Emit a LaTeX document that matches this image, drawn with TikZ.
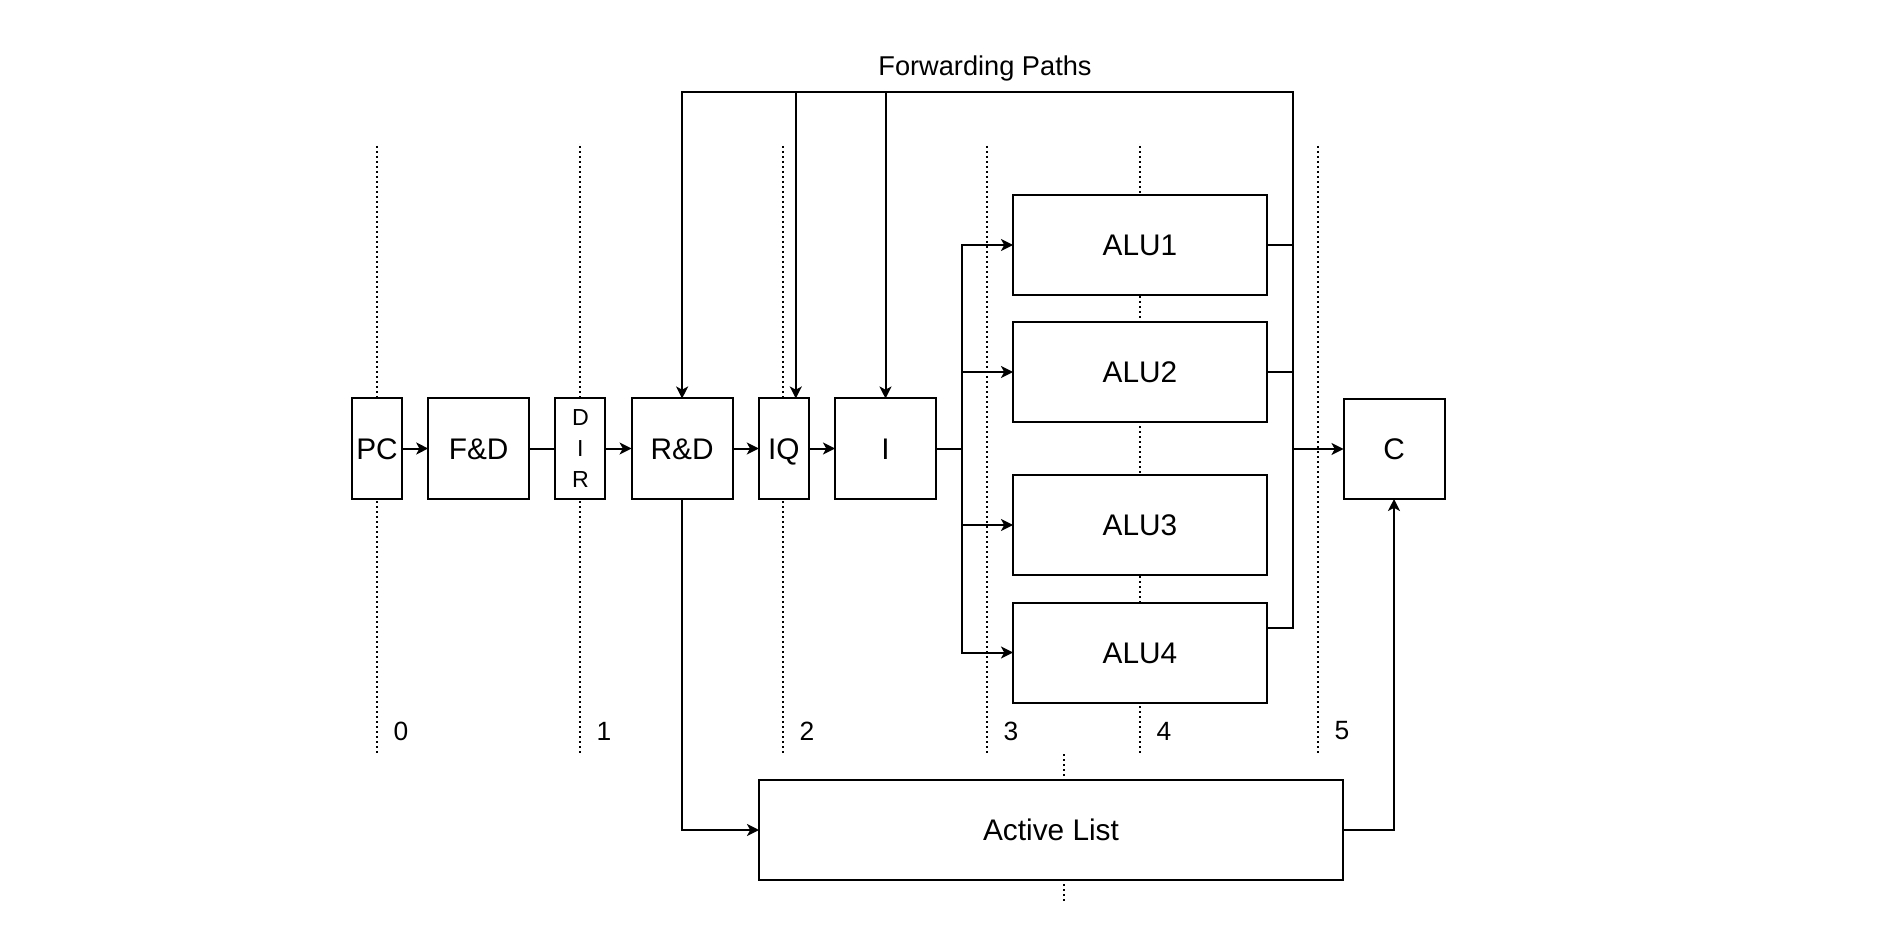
\documentclass[tikz,border=0pt]{standalone}
\usepackage{fontspec}
\setmainfont{Liberation Sans}
\usetikzlibrary{positioning,calc,arrows.meta}
\tikzset{every node/.style={align=center}, >= {Stealth[length=6pt,width=6pt,inset=1.6pt]}, font=\fontsize{14.9}{18}\selectfont,
  unit/.style={draw, fill=white, inner sep=0pt, outer sep=0pt, minimum width=50.5pt, minimum height=50pt, text height=10.7pt, text depth=0pt},
  narrow/.style={unit, minimum width=25pt},
  alu/.style={unit, minimum width=127pt},
  divider/.style={line width=1.1pt, dash pattern=on 1pt off 1.5pt},
  stagenum/.style={font=\fontsize{13.2}{16}\selectfont}}

\begin{document}
\begin{tikzpicture}[x=0.5pt, y=-0.5pt, node distance=13.1pt, line width=1pt]
            \useasboundingbox (0,0) rectangle (1884,946);
            % pipeline stage borders
            \foreach \x/\n in {377/0, 580/1, 783/2, 987/3, 1140/4, 1318/5} {
                \draw[divider] (\x,146) -- (\x,754);
                \node[stagenum] (num\n) at (\x+24,731) {\n};
            }
            \draw[divider] (1064,754) -- (1064,903);
            \node[font=\fontsize{13.6}{16}\selectfont] (fwdlabel) at (985,68) {Forwarding Paths};
            % front end
            \node[narrow] (pc) at (377,448.5) {PC};
            \node[unit] (fd) [right=of pc] {F\&D};
            \node[narrow, text height=, text depth=, font=\fontsize{11.6}{15.5}\selectfont] (dir) [right=of fd] {D\\I\\R};
            \node[unit] (rd) [right=of dir] {R\&D};
            \node[narrow] (iq) [right=of rd] {IQ};
            \node[unit] (i) [right=of iq] {I};
            % execution units
            \node[alu] (alu1) at (1140,245) {ALU1};
            \node[alu] (alu2) at (1140,372) {ALU2};
            \node[alu] (alu3) at (1140,525) {ALU3};
            \node[alu] (alu4) at (1140,652.5) {ALU4};
            \node[unit] (c) at (1394,449) {C};
            \node[unit, minimum width=292pt] (al) at (1051,830) {Active List};
            \path[->] (pc) edge (fd)
                (dir) edge (rd)
                (rd) edge (iq)
                (iq) edge (i);
            \draw (fd) -- (dir);
            \draw (i.east) -- ++(26,0) coordinate (fan);
            \foreach \k in {1,...,4}
                \draw[->] (fan) |- (alu\k.west);
            % forwarding bus
            \coordinate (fwd) at (1293,92);
            \draw (alu1.east) -- (alu1.east -| fwd);
            \draw (alu2.east) -- (alu2.east -| fwd);
            \draw ($(alu3.north east)+(0,26)$) -- ($(alu3.north east)+(0,26)$ -| fwd);
            \draw[->] ($(alu4.north east)+(0,25)$) -| (fwd) -| (rd.north);
            \coordinate (iqin) at ($(iq.north)+(12,0)$);
            \draw[->] (iqin |- fwd) -- (iqin);
            \draw[->] (i.north |- fwd) -- (i.north);
            \draw[->] (c.west -| fwd) -- (c.west);
            % commit
            \draw[->] (rd.south) |- (al.west);
            \draw[->] (al.east) -| (c.south);
        \end{tikzpicture}
\end{document}
